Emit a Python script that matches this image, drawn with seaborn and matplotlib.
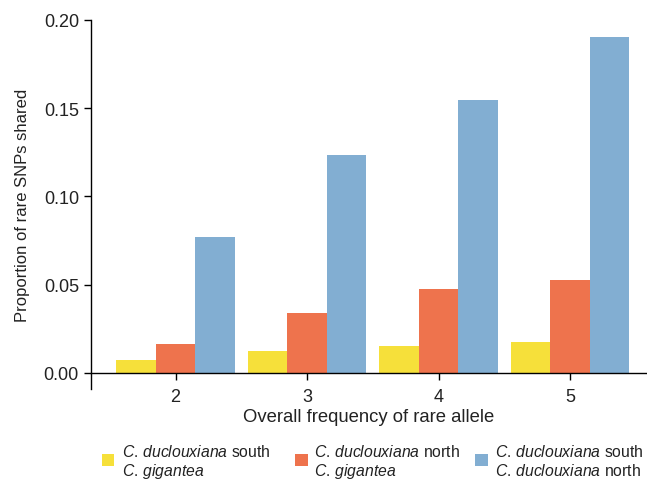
import matplotlib
matplotlib.use("Agg")
import matplotlib.pyplot as plt
import seaborn as sns
import pandas as pd
from matplotlib.patches import Rectangle

frequencies = ["2", "3", "4", "5"]
south_gigantea = [0.0074, 0.0125, 0.0153, 0.0175]
north_gigantea = [0.0164, 0.0340, 0.0476, 0.0526]
south_north = [0.0772, 0.1236, 0.1545, 0.1902]
series_names = ["south_gig", "north_gig", "south_north"]
legend_line1 = [
    "$\\it{C.\\,duclouxiana}$ south",
    "$\\it{C.\\,duclouxiana}$ north",
    "$\\it{C.\\,duclouxiana}$ south",
]
legend_line2 = [
    "$\\it{C.\\,gigantea}$",
    "$\\it{C.\\,gigantea}$",
    "$\\it{C.\\,duclouxiana}$ north",
]
colors = ["#F6E03A", "#EE734D", "#82AED2"]

sns.set_style("white")
plt.rcParams["font.family"] = ["Liberation Sans", "DejaVu Sans"]
plt.rcParams["mathtext.fontset"] = "custom"
plt.rcParams["mathtext.it"] = "Liberation Sans:italic"
plt.rcParams["mathtext.rm"] = "Liberation Sans"

rows = []
for name, vals in zip(series_names, [south_gigantea, north_gigantea, south_north]):
    for f, v in zip(frequencies, vals):
        rows.append({"freq": f, "series": name, "value": v})
df = pd.DataFrame(rows)

W, H = 647, 481
fig = plt.figure(figsize=(W / 100, H / 100), dpi=100)
ax = fig.add_axes([90.7 / W, 1 - 390 / H, (647 - 90.7) / W, (390 - 20.7) / H])
sns.barplot(data=df, x="freq", y="value", hue="series", order=frequencies,
            hue_order=series_names, palette=colors, width=0.9, gap=0,
            saturation=1, ax=ax, legend=False, linewidth=0)

ax.set_xlim(-0.645, 3.584)
ax.set_ylim(-0.00906, 0.2)
ax.set_yticks([0, 0.05, 0.10, 0.15, 0.20])
ax.set_yticklabels(["0.00", "0.05", "0.10", "0.15", "0.20"])
for s in ["top", "right"]:
    ax.spines[s].set_visible(False)
ax.spines["bottom"].set_position(("data", 0))
for s in ["left", "bottom"]:
    ax.spines[s].set_color("black")
    ax.spines[s].set_linewidth(1.0)
ax.tick_params(axis="both", direction="out", length=5, width=1, color="black",
               labelsize=13, labelcolor="#222222", left=True, bottom=True)
ax.tick_params(axis="x", pad=6)
ax.set_xlabel("Overall frequency of rare allele", fontsize=13.3, color="#222222", labelpad=2)
ax.set_ylabel("Proportion of rare SNPs shared", fontsize=12, color="#222222", labelpad=10)

# legend drawn manually (figure pixel positions)
sq_x = [102, 295, 475]
txt_x = [122, 314, 495]
for i, c in enumerate(colors):
    fig.add_artist(Rectangle((sq_x[i] / W, 1 - 467 / H), 12.5 / W, 12.5 / H,
                             transform=fig.transFigure, facecolor=c,
                             edgecolor="none"))
    fig.text(txt_x[i] / W, 1 - 457 / H, legend_line1[i], fontsize=11.3,
             color="#222222", ha="left", va="baseline")
    fig.text(txt_x[i] / W, 1 - 476 / H, legend_line2[i], fontsize=11.3,
             color="#222222", ha="left", va="baseline")

fig.savefig("out.png", dpi=100)
